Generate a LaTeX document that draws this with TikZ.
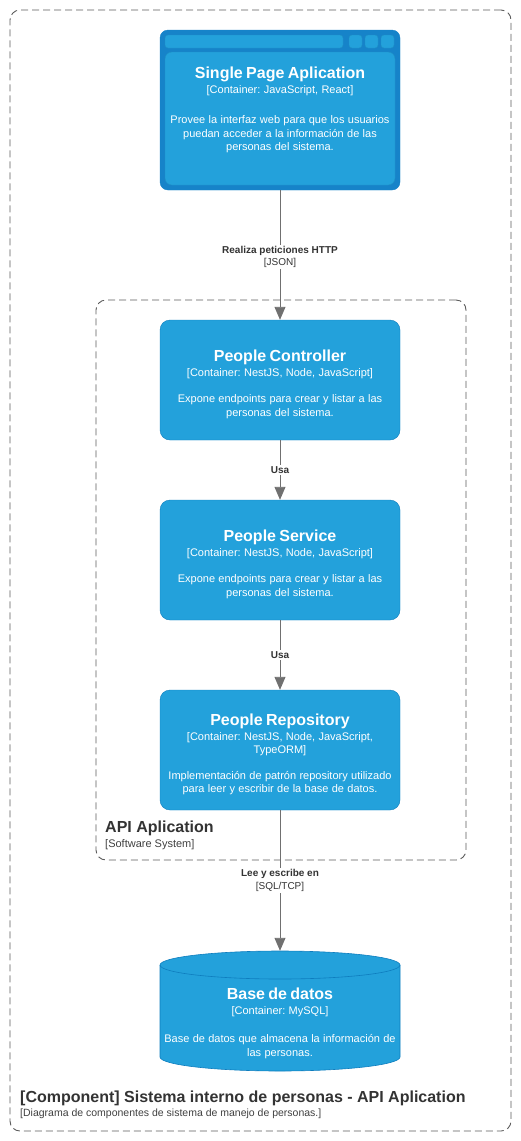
\documentclass[tikz,border=0pt]{standalone}
\usepackage{fontspec}
\setmainfont{Liberation Sans}
\usetikzlibrary{arrows.meta}
\definecolor{boxfill}{RGB}{35,161,219}
\definecolor{boxline}{RGB}{14,125,190}
\definecolor{spaframe}{RGB}{22,131,201}
\definecolor{relgray}{RGB}{112,112,112}
\definecolor{bndgray}{RGB}{90,90,90}
\frenchspacing
\newcommand{\boxtext}[4][12.5pt]{\vskip1pt{\fontsize{16}{19}\selectfont\bfseries #2\par}\vskip2pt
  {\fontsize{11}{13}\selectfont #3\par}\vskip#1
  {\fontsize{11}{13.5}\selectfont #4\par}}

\begin{document}
\begin{tikzpicture}
        [x=1pt, y=-1pt,
        container/.style={rectangle, rounded corners=10pt, draw=boxline, fill=boxfill,
          minimum width=240, minimum height=120, text=white, text width=232, align=center},
        txt/.style={text=white, text width=232, align=center},
        bnd/.style={rectangle, rounded corners=10pt, draw=bndgray, line width=0.9pt,
          dash pattern=on 7pt off 4pt},
        arr/.style={-{Triangle[width=11pt,length=13pt]}, draw=relgray, line width=0.9pt},
        lbl/.style={fill=white, inner sep=1.5pt, align=center, text=black!80,
          font=\fontsize{10}{12.5}\selectfont}]
        \useasboundingbox (0,0) rectangle (521,1141);
        % boundaries
        \node (sys) at (260.5,570.5) [bnd, minimum width=501, minimum height=1121] {};
        \node (api) at (281,580) [bnd, minimum width=370, minimum height=560] {};
        \node (apiname) at (105,832) [anchor=base west, inner sep=0pt, text=black!80,
          font=\fontsize{16}{19}\selectfont\bfseries] {API Aplication};
        \node (apitype) at (105,847) [anchor=base west, inner sep=0pt, text=black!75,
          font=\fontsize{11}{13}\selectfont] {[Software System]};
        \node (sysname) at (20,1102) [anchor=base west, inner sep=0pt, text=black!80,
          font=\fontsize{16}{19}\selectfont\bfseries]
          {[Component] Sistema interno de personas - API Aplication};
        \node (systype) at (20,1116) [anchor=base west, inner sep=0pt, text=black!75,
          font=\fontsize{10.5}{12}\selectfont]
          {[Diagrama de componentes de sistema de manejo de personas.]};
        % single page app (browser window)
        \node (spa) at (280,110) [rectangle, rounded corners=8pt, draw=spaframe, fill=spaframe,
          minimum width=240, minimum height=160] {};
        \draw[fill=boxfill, draw=boxfill!90!black, rounded corners=3pt] (165,35) rectangle (343,48);
        \foreach \sx in {349,365,381}
          \draw[fill=boxfill, draw=boxfill!90!black, rounded corners=3pt] (\sx,35) rectangle ++(13,13);
        \draw[fill=boxfill, draw=boxfill!90!black, rounded corners=7pt] (165,52) rectangle (395,185);
        \node (spatext) at (280,106) [txt]
          {\boxtext[16.5pt]{Single Page Aplication}{[Container: JavaScript, React]}
          {Provee la interfaz web para que los usuarios\\ puedan acceder a la informaci\'on de las\\ personas del sistema.}};
        % components
        \node (ctrl) at (280,380) [container]
          {\boxtext{People Controller}{[Container: NestJS, Node, JavaScript]}
          {Expone endpoints para crear y listar a las\\ personas del sistema.}};
        \node (svc) at (280,560) [container]
          {\boxtext{People Service}{[Container: NestJS, Node, JavaScript]}
          {Expone endpoints para crear y listar a las\\ personas del sistema.}};
        \node (repo) at (280,750) [container]
          {\boxtext{People Repository}{[Container: NestJS, Node, JavaScript,\\ TypeORM]}
          {Implementaci\'on de patr\'on repository utilizado\\ para leer y escribir de la base de datos.}};
        % database
        \node (db) at (280,1011) [minimum width=240, minimum height=120, inner sep=0pt] {};
        \draw[fill=boxfill, draw=boxline, line width=0.6pt] (160,965) -- (160,1057)
          arc[start angle=180, end angle=360, x radius=120pt, y radius=14pt] -- (400,965)
          arc[start angle=0, end angle=180, x radius=120pt, y radius=14pt] -- cycle;
        \draw[draw=boxline, line width=0.6pt] (160,965)
          arc[start angle=180, end angle=360, x radius=120pt, y radius=14pt];
        \node (dbtext) at (280,1019) [txt]
          {\boxtext[14.5pt]{Base de datos}{[Container: MySQL]}
          {Base de datos que almacena la informaci\'on de\\ las personas.}};
        % relations
        \draw[arr] (spa) -- node[lbl, yshift=-2pt] {\textbf{Realiza peticiones HTTP}\\{}[JSON]} (ctrl);
        \draw[arr] (ctrl) -- node[lbl] {\textbf{Usa}} (svc);
        \draw[arr] (svc) -- node[lbl] {\textbf{Usa}} (repo);
        \draw[arr] (repo) -- node[lbl] {\textbf{Lee y escribe en}\\{}[SQL/TCP]} (db);
\end{tikzpicture}
\end{document}
